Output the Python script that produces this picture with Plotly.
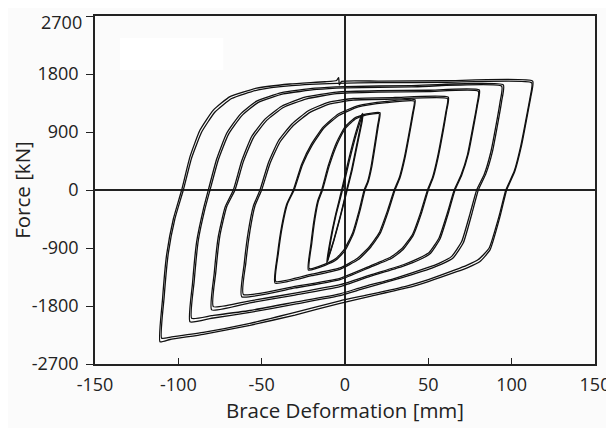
import plotly.graph_objects as go

# ---------------- data ----------------
x_ticks = [-150, -100, -50, 0, 50, 100, 150]
x_tick_text = ["-150", "-100", "-50", "0", "50", "100", "150"]
y_ticks = [-2700, -1800, -900, 0, 900, 1800, 2700]
y_tick_text = ["-2700", "-1800", "-900", "0", "900", "1800", ""]
y_top_label = "2700"

# amplitude level 7 (about +/-111 mm), two cycles
L7a_x = [-111, -109.5, -107, -103, -98, -93, -87, -79, -69, -53, -33, -12, -5, -3.8, -3.4, -2, 20, 60, 112.6,
         111.5, 110, 106, 102, 97, 93, 87, 81, 74, 67, 50, 37, 15, -3, -30, -57, -85, -105, -111]
L7a_y = [-2355, -1700, -1000, -450, 0, 517, 930, 1240, 1450, 1580, 1645, 1680, 1700, 1745, 1630, 1685, 1690, 1695, 1690,
         1450, 1240, 700, 300, 0, -414, -930, -1110, -1200, -1268, -1420, -1520, -1650, -1758, -1940, -2100, -2240, -2320, -2355]
L7b_x = [-110, -108.5, -106, -102, -97, -92, -86, -78, -68, -52, -32, -5, 20, 60, 112,
         111, 109.5, 105.5, 101.5, 96.5, 92.5, 86.5, 80, 73, 66, 50, 37, 15, -3, -30, -57, -85, -104, -110]
L7b_y = [-2300, -1660, -980, -440, 0, 500, 900, 1210, 1420, 1555, 1620, 1655, 1665, 1670, 1665,
         1430, 1220, 690, 290, 0, -400, -900, -1080, -1170, -1240, -1390, -1490, -1620, -1720, -1900, -2070, -2210, -2280, -2300]

# level 6 (about +/-94 mm)
L6a_x = [-93, -91.5, -89, -85, -82, -77, -71, -63, -53, -38, -18, 0, 40, 95,
         94, 92.5, 88.5, 84.5, 80, 76, 71, 65, 58, 50, 30, 10, -3, -30, -57, -80, -93]
L6a_y = [-2045, -1450, -800, -300, 0, 480, 880, 1170, 1380, 1510, 1580, 1605, 1620, 1630,
         1380, 1150, 600, 250, 0, -380, -820, -1050, -1150, -1230, -1390, -1540, -1640, -1770, -1900, -1990, -2045]
L6b_x = [-92, -90.5, -88, -84, -81, -76, -70, -62, -52, -37, -17, 0, 40, 94,
         93, 91.5, 87.5, 83.5, 79, 75, 70, 64, 57, 49, 30, 10, -3, -30, -57, -80, -92]
L6b_y = [-1990, -1420, -780, -290, 0, 470, 860, 1150, 1360, 1490, 1560, 1585, 1600, 1610,
         1360, 1130, 590, 240, 0, -370, -800, -1030, -1130, -1210, -1370, -1510, -1610, -1740, -1870, -1950, -1990]

# level 5 (about +/-80 mm)
L5a_x = [-80, -78.5, -76, -72, -67, -62, -56, -48, -38, -24, -5, 20, 50, 80.6,
         79.5, 78, 74, 70, 66, 62, 57, 51, 44, 35, 15, -3, -30, -57, -80]
L5a_y = [-1860, -1300, -720, -270, 0, 450, 830, 1100, 1300, 1440, 1520, 1540, 1548, 1552,
         1320, 1100, 560, 230, 0, -360, -760, -990, -1090, -1180, -1340, -1500, -1630, -1750, -1860]
L5b_x = [-79, -77.5, -75, -71, -66, -61, -55, -47, -37, -23, -5, 20, 50, 80,
         79, 77.5, 73.5, 69.5, 65.5, 61.5, 56.5, 50.5, 43.5, 35, 15, -3, -30, -57, -79]
L5b_y = [-1810, -1270, -700, -260, 0, 440, 810, 1080, 1280, 1415, 1495, 1518, 1528, 1532,
         1300, 1085, 550, 225, 0, -350, -740, -970, -1070, -1160, -1320, -1470, -1600, -1720, -1810]

# level 4 (about +/-62 mm)
L4a_x = [-62, -60.5, -58, -55, -51, -46, -40, -32, -22, -10, 5, 30, 62,
         61, 59.5, 56, 53, 50, 46, 41, 35, 28, 15, -3, -30, -62]
L4a_y = [-1655, -1150, -640, -250, 0, 420, 760, 1020, 1230, 1360, 1420, 1435, 1440,
         1230, 1000, 520, 200, 0, -350, -700, -920, -1060, -1200, -1390, -1520, -1655]
L4b_x = [-61, -59.5, -57, -54, -50, -45, -39, -31, -21, -9, 5, 30, 61.5,
         60.5, 59, 55.5, 52.5, 49.5, 45.5, 40.5, 34.5, 27.5, 15, -3, -30, -61]
L4b_y = [-1620, -1130, -630, -245, 0, 410, 745, 1000, 1205, 1335, 1395, 1412, 1418,
         1210, 985, 510, 195, 0, -340, -690, -900, -1040, -1180, -1370, -1495, -1620]

# level 3 (about +/-42 mm)
L3a_x = [-42, -40.5, -38, -35, -31, -26, -20, -13, -4, 8, 25, 42,
         41, 39.5, 36, 33, 30, 26, 21, 15, 8, -3, -20, -42]
L3a_y = [-1445, -1000, -560, -220, 0, 400, 720, 980, 1180, 1310, 1375, 1400,
         1200, 980, 500, 190, 0, -330, -680, -900, -1080, -1230, -1330, -1445]
L3b_x = [-41.5, -40, -37.5, -34.5, -30.5, -25.5, -19.5, -12.5, -3.5, 8, 25, 41.5,
         40.5, 39, 35.5, 32.5, 29.5, 25.5, 20.5, 14.5, 7.5, -3, -20, -41.5]
L3b_y = [-1420, -985, -550, -215, 0, 390, 705, 965, 1160, 1290, 1355, 1380,
         1185, 965, 490, 185, 0, -320, -665, -885, -1060, -1210, -1305, -1420]

# level 2 (about +/-22 mm)
L2a_x = [-22, -20.5, -18.5, -16.5, -14, -10, -5, 0, 6, 13, 21,
         20, 18.5, 16, 14, 12, 9, 5, 0, -5, -12, -22]
L2a_y = [-1240, -850, -450, -180, 0, 380, 740, 980, 1120, 1180, 1200,
         1000, 750, 350, 130, 0, -320, -680, -940, -1080, -1170, -1240]
L2b_x = [-21.5, -20, -18, -16, -13.5, -9.5, -4.5, 0.5, 6.5, 13, 20.5,
         19.5, 18, 15.5, 13.5, 11.5, 8.5, 4.5, -0.5, -5.5, -12, -21.5]
L2b_y = [-1220, -840, -445, -175, 0, 370, 725, 965, 1105, 1165, 1185,
         990, 740, 345, 125, 0, -315, -670, -925, -1065, -1150, -1220]

# level 1 (about +/-11 mm)
L1a_x = [-11, -9, -6, -2, 2, 6, 9, 10.5, 10, 7, 4, 1, -3, -7, -10, -11]
L1a_y = [-1130, -800, -420, 0, 450, 850, 1100, 1190, 1080, 700, 320, 0, -420, -800, -1050, -1130]
L1b_x = [-10.5, -8.5, -5.5, -1.5, 2.5, 6.5, 9.5, 10.8, 10.3, 7.3, 4.3, 1.3, -2.7, -6.7, -9.7, -10.5]
L1b_y = [-1110, -780, -400, 0, 440, 840, 1090, 1180, 1070, 690, 310, 0, -410, -790, -1040, -1110]

loops = [
    (L1a_x, L1a_y), (L1b_x, L1b_y),
    (L2a_x, L2a_y), (L2b_x, L2b_y),
    (L3a_x, L3a_y), (L3b_x, L3b_y),
    (L4a_x, L4a_y), (L4b_x, L4b_y),
    (L5a_x, L5a_y), (L5b_x, L5b_y),
    (L6a_x, L6a_y), (L6b_x, L6b_y),
    (L7a_x, L7a_y), (L7b_x, L7b_y),
]

# ---------------- figure ----------------
FONT = "Open Sans"
fig = go.Figure()
for lx, ly in loops:
    fig.add_trace(go.Scatter(
        x=lx, y=ly, mode="lines",
        line=dict(color="#111111", width=1.3, shape="spline", smoothing=0.45),
        showlegend=False, hoverinfo="skip",
    ))

# the page body adds an 8 px offset, so the figure is sized to fill the rest of the window
fig.update_layout(
    width=606, height=420,
    margin=dict(l=87, r=19, t=8, b=64),
    paper_bgcolor="#fbfbfb",
    plot_bgcolor="#fbfbfb",
    font=dict(family=FONT, size=18, color="#222222"),
    showlegend=False,
)
fig.update_xaxes(
    range=[-150, 150], tickmode="array", tickvals=x_ticks, ticktext=x_tick_text,
    ticks="inside", ticklen=6, tickwidth=1.2, tickcolor="#222",
    showline=True, linecolor="#222", linewidth=1.5, mirror=True,
    zeroline=True, zerolinecolor="#222", zerolinewidth=1.5,
    showgrid=False, automargin=False, ticklabelstandoff=4,
    title=dict(text="Brace Deformation [mm]", font=dict(family=FONT, size=20.5, color="#222"), standoff=8),
    tickfont=dict(family=FONT, size=18, color="#222"),
)
fig.update_yaxes(
    range=[-2700, 2700], tickmode="array", tickvals=y_ticks, ticktext=y_tick_text,
    ticks="outside", ticklen=7, tickwidth=1.2, tickcolor="#222",
    showline=True, linecolor="#222", linewidth=1.5, mirror=True,
    zeroline=True, zerolinecolor="#222", zerolinewidth=1.5,
    showgrid=False, automargin=False, ticklabelstandoff=4,
    title=dict(text="Force [kN]", font=dict(family=FONT, size=20.5, color="#222"), standoff=5),
    tickfont=dict(family=FONT, size=18, color="#222"),
)
# top tick label, sitting a little below the axis top as in the reference
fig.add_annotation(text=y_top_label, xref="paper", yref="y", x=0, y=y_ticks[-1],
                   xanchor="right", yanchor="middle", xshift=-11, yshift=-6, showarrow=False,
                   font=dict(family=FONT, size=18, color="#222"))
# erased legend box (plain white patch)
fig.add_shape(type="rect", xref="x", yref="y", x0=-135, x1=-73, y0=1862, y1=2359,
              fillcolor="white", line=dict(width=0), layer="below")

fig.write_html("out.html")
